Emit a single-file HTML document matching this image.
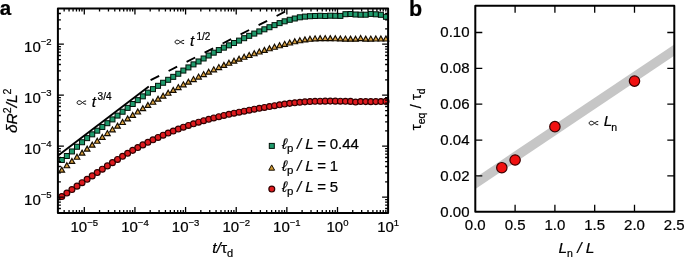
<!DOCTYPE html><html><head><meta charset="utf-8"><style>html,body{margin:0;padding:0;background:#fff;}svg{display:block;will-change:transform;}text{font-family:"Liberation Sans",sans-serif;stroke:#000;stroke-width:0.22px;}</style></head><body>
<svg width="685" height="258" viewBox="0 0 685 258">
<rect width="685" height="258" fill="#fff"/>
<g>
<defs><clipPath id="clipA"><rect x="57.9" y="8.4" width="330.20000000000005" height="204.5"/></clipPath></defs>
<circle cx="61.80" cy="196.56" r="2.95" fill="#de1a1e" stroke="#300000" stroke-width="1.15"/>
<circle cx="66.86" cy="193.06" r="2.95" fill="#de1a1e" stroke="#300000" stroke-width="1.15"/>
<circle cx="71.93" cy="189.58" r="2.95" fill="#de1a1e" stroke="#300000" stroke-width="1.15"/>
<circle cx="77.00" cy="186.13" r="2.95" fill="#de1a1e" stroke="#300000" stroke-width="1.15"/>
<circle cx="82.06" cy="182.69" r="2.95" fill="#de1a1e" stroke="#300000" stroke-width="1.15"/>
<circle cx="87.12" cy="179.28" r="2.95" fill="#de1a1e" stroke="#300000" stroke-width="1.15"/>
<circle cx="92.19" cy="175.89" r="2.95" fill="#de1a1e" stroke="#300000" stroke-width="1.15"/>
<circle cx="97.25" cy="172.53" r="2.95" fill="#de1a1e" stroke="#300000" stroke-width="1.15"/>
<circle cx="102.32" cy="169.18" r="2.95" fill="#de1a1e" stroke="#300000" stroke-width="1.15"/>
<circle cx="107.38" cy="165.88" r="2.95" fill="#de1a1e" stroke="#300000" stroke-width="1.15"/>
<circle cx="112.45" cy="162.63" r="2.95" fill="#de1a1e" stroke="#300000" stroke-width="1.15"/>
<circle cx="117.52" cy="159.43" r="2.95" fill="#de1a1e" stroke="#300000" stroke-width="1.15"/>
<circle cx="122.58" cy="156.32" r="2.95" fill="#de1a1e" stroke="#300000" stroke-width="1.15"/>
<circle cx="127.64" cy="153.29" r="2.95" fill="#de1a1e" stroke="#300000" stroke-width="1.15"/>
<circle cx="132.71" cy="150.37" r="2.95" fill="#de1a1e" stroke="#300000" stroke-width="1.15"/>
<circle cx="137.78" cy="147.57" r="2.95" fill="#de1a1e" stroke="#300000" stroke-width="1.15"/>
<circle cx="142.84" cy="144.88" r="2.95" fill="#de1a1e" stroke="#300000" stroke-width="1.15"/>
<circle cx="147.91" cy="142.30" r="2.95" fill="#de1a1e" stroke="#300000" stroke-width="1.15"/>
<circle cx="152.97" cy="139.83" r="2.95" fill="#de1a1e" stroke="#300000" stroke-width="1.15"/>
<circle cx="158.04" cy="137.47" r="2.95" fill="#de1a1e" stroke="#300000" stroke-width="1.15"/>
<circle cx="163.10" cy="135.21" r="2.95" fill="#de1a1e" stroke="#300000" stroke-width="1.15"/>
<circle cx="168.17" cy="133.06" r="2.95" fill="#de1a1e" stroke="#300000" stroke-width="1.15"/>
<circle cx="173.23" cy="131.01" r="2.95" fill="#de1a1e" stroke="#300000" stroke-width="1.15"/>
<circle cx="178.30" cy="129.06" r="2.95" fill="#de1a1e" stroke="#300000" stroke-width="1.15"/>
<circle cx="183.36" cy="127.20" r="2.95" fill="#de1a1e" stroke="#300000" stroke-width="1.15"/>
<circle cx="188.43" cy="125.44" r="2.95" fill="#de1a1e" stroke="#300000" stroke-width="1.15"/>
<circle cx="193.49" cy="123.77" r="2.95" fill="#de1a1e" stroke="#300000" stroke-width="1.15"/>
<circle cx="198.56" cy="122.19" r="2.95" fill="#de1a1e" stroke="#300000" stroke-width="1.15"/>
<circle cx="203.62" cy="120.69" r="2.95" fill="#de1a1e" stroke="#300000" stroke-width="1.15"/>
<circle cx="208.69" cy="119.27" r="2.95" fill="#de1a1e" stroke="#300000" stroke-width="1.15"/>
<circle cx="213.75" cy="117.93" r="2.95" fill="#de1a1e" stroke="#300000" stroke-width="1.15"/>
<circle cx="218.81" cy="116.66" r="2.95" fill="#de1a1e" stroke="#300000" stroke-width="1.15"/>
<circle cx="223.88" cy="115.46" r="2.95" fill="#de1a1e" stroke="#300000" stroke-width="1.15"/>
<circle cx="228.94" cy="114.31" r="2.95" fill="#de1a1e" stroke="#300000" stroke-width="1.15"/>
<circle cx="234.01" cy="113.21" r="2.95" fill="#de1a1e" stroke="#300000" stroke-width="1.15"/>
<circle cx="239.07" cy="112.16" r="2.95" fill="#de1a1e" stroke="#300000" stroke-width="1.15"/>
<circle cx="244.14" cy="111.15" r="2.95" fill="#de1a1e" stroke="#300000" stroke-width="1.15"/>
<circle cx="249.20" cy="110.17" r="2.95" fill="#de1a1e" stroke="#300000" stroke-width="1.15"/>
<circle cx="254.27" cy="109.23" r="2.95" fill="#de1a1e" stroke="#300000" stroke-width="1.15"/>
<circle cx="259.34" cy="108.30" r="2.95" fill="#de1a1e" stroke="#300000" stroke-width="1.15"/>
<circle cx="264.40" cy="107.40" r="2.95" fill="#de1a1e" stroke="#300000" stroke-width="1.15"/>
<circle cx="269.47" cy="106.51" r="2.95" fill="#de1a1e" stroke="#300000" stroke-width="1.15"/>
<circle cx="274.53" cy="105.65" r="2.95" fill="#de1a1e" stroke="#300000" stroke-width="1.15"/>
<circle cx="279.60" cy="104.82" r="2.95" fill="#de1a1e" stroke="#300000" stroke-width="1.15"/>
<circle cx="284.66" cy="104.06" r="2.95" fill="#de1a1e" stroke="#300000" stroke-width="1.15"/>
<circle cx="289.73" cy="103.37" r="2.95" fill="#de1a1e" stroke="#300000" stroke-width="1.15"/>
<circle cx="294.79" cy="102.76" r="2.95" fill="#de1a1e" stroke="#300000" stroke-width="1.15"/>
<circle cx="299.86" cy="102.25" r="2.95" fill="#de1a1e" stroke="#300000" stroke-width="1.15"/>
<circle cx="304.92" cy="101.85" r="2.95" fill="#de1a1e" stroke="#300000" stroke-width="1.15"/>
<circle cx="309.99" cy="101.54" r="2.95" fill="#de1a1e" stroke="#300000" stroke-width="1.15"/>
<circle cx="315.05" cy="101.33" r="2.95" fill="#de1a1e" stroke="#300000" stroke-width="1.15"/>
<circle cx="320.12" cy="101.19" r="2.95" fill="#de1a1e" stroke="#300000" stroke-width="1.15"/>
<circle cx="325.18" cy="101.13" r="2.95" fill="#de1a1e" stroke="#300000" stroke-width="1.15"/>
<circle cx="330.25" cy="101.11" r="2.95" fill="#de1a1e" stroke="#300000" stroke-width="1.15"/>
<circle cx="335.31" cy="101.14" r="2.95" fill="#de1a1e" stroke="#300000" stroke-width="1.15"/>
<circle cx="340.38" cy="101.20" r="2.95" fill="#de1a1e" stroke="#300000" stroke-width="1.15"/>
<circle cx="345.44" cy="101.29" r="2.95" fill="#de1a1e" stroke="#300000" stroke-width="1.15"/>
<circle cx="350.51" cy="101.38" r="2.95" fill="#de1a1e" stroke="#300000" stroke-width="1.15"/>
<circle cx="355.57" cy="102.07" r="2.95" fill="#de1a1e" stroke="#300000" stroke-width="1.15"/>
<circle cx="360.64" cy="101.55" r="2.95" fill="#de1a1e" stroke="#300000" stroke-width="1.15"/>
<circle cx="365.70" cy="101.61" r="2.95" fill="#de1a1e" stroke="#300000" stroke-width="1.15"/>
<circle cx="370.77" cy="101.64" r="2.95" fill="#de1a1e" stroke="#300000" stroke-width="1.15"/>
<circle cx="375.83" cy="101.62" r="2.95" fill="#de1a1e" stroke="#300000" stroke-width="1.15"/>
<circle cx="380.90" cy="101.54" r="2.95" fill="#de1a1e" stroke="#300000" stroke-width="1.15"/>
<circle cx="385.96" cy="101.39" r="2.95" fill="#de1a1e" stroke="#300000" stroke-width="1.15"/>
<path d="M61.80,167.16 L64.60,172.16 L59.00,172.16 Z" fill="#d8a040" stroke="#140c00" stroke-width="1.15" stroke-linejoin="miter"/>
<path d="M66.86,162.72 L69.66,167.72 L64.06,167.72 Z" fill="#d8a040" stroke="#140c00" stroke-width="1.15" stroke-linejoin="miter"/>
<path d="M71.93,158.41 L74.73,163.41 L69.13,163.41 Z" fill="#d8a040" stroke="#140c00" stroke-width="1.15" stroke-linejoin="miter"/>
<path d="M77.00,154.21 L79.80,159.21 L74.20,159.21 Z" fill="#d8a040" stroke="#140c00" stroke-width="1.15" stroke-linejoin="miter"/>
<path d="M82.06,150.11 L84.86,155.11 L79.26,155.11 Z" fill="#d8a040" stroke="#140c00" stroke-width="1.15" stroke-linejoin="miter"/>
<path d="M87.12,146.10 L89.92,151.10 L84.33,151.10 Z" fill="#d8a040" stroke="#140c00" stroke-width="1.15" stroke-linejoin="miter"/>
<path d="M92.19,142.15 L94.99,147.15 L89.39,147.15 Z" fill="#d8a040" stroke="#140c00" stroke-width="1.15" stroke-linejoin="miter"/>
<path d="M97.25,138.26 L100.05,143.26 L94.45,143.26 Z" fill="#d8a040" stroke="#140c00" stroke-width="1.15" stroke-linejoin="miter"/>
<path d="M102.32,134.41 L105.12,139.41 L99.52,139.41 Z" fill="#d8a040" stroke="#140c00" stroke-width="1.15" stroke-linejoin="miter"/>
<path d="M107.38,130.59 L110.18,135.59 L104.58,135.59 Z" fill="#d8a040" stroke="#140c00" stroke-width="1.15" stroke-linejoin="miter"/>
<path d="M112.45,126.83 L115.25,131.83 L109.65,131.83 Z" fill="#d8a040" stroke="#140c00" stroke-width="1.15" stroke-linejoin="miter"/>
<path d="M117.52,123.13 L120.31,128.13 L114.72,128.13 Z" fill="#d8a040" stroke="#140c00" stroke-width="1.15" stroke-linejoin="miter"/>
<path d="M122.58,119.48 L125.38,124.48 L119.78,124.48 Z" fill="#d8a040" stroke="#140c00" stroke-width="1.15" stroke-linejoin="miter"/>
<path d="M127.64,115.91 L130.44,120.91 L124.84,120.91 Z" fill="#d8a040" stroke="#140c00" stroke-width="1.15" stroke-linejoin="miter"/>
<path d="M132.71,112.42 L135.51,117.42 L129.91,117.42 Z" fill="#d8a040" stroke="#140c00" stroke-width="1.15" stroke-linejoin="miter"/>
<path d="M137.78,109.01 L140.58,114.01 L134.97,114.01 Z" fill="#d8a040" stroke="#140c00" stroke-width="1.15" stroke-linejoin="miter"/>
<path d="M142.84,105.68 L145.64,110.68 L140.04,110.68 Z" fill="#d8a040" stroke="#140c00" stroke-width="1.15" stroke-linejoin="miter"/>
<path d="M147.91,102.43 L150.71,107.43 L145.10,107.43 Z" fill="#d8a040" stroke="#140c00" stroke-width="1.15" stroke-linejoin="miter"/>
<path d="M152.97,99.27 L155.77,104.27 L150.17,104.27 Z" fill="#d8a040" stroke="#140c00" stroke-width="1.15" stroke-linejoin="miter"/>
<path d="M158.04,96.18 L160.84,101.18 L155.24,101.18 Z" fill="#d8a040" stroke="#140c00" stroke-width="1.15" stroke-linejoin="miter"/>
<path d="M163.10,93.16 L165.90,98.16 L160.30,98.16 Z" fill="#d8a040" stroke="#140c00" stroke-width="1.15" stroke-linejoin="miter"/>
<path d="M168.17,90.23 L170.97,95.23 L165.37,95.23 Z" fill="#d8a040" stroke="#140c00" stroke-width="1.15" stroke-linejoin="miter"/>
<path d="M173.23,87.36 L176.03,92.36 L170.43,92.36 Z" fill="#d8a040" stroke="#140c00" stroke-width="1.15" stroke-linejoin="miter"/>
<path d="M178.30,84.56 L181.10,89.56 L175.50,89.56 Z" fill="#d8a040" stroke="#140c00" stroke-width="1.15" stroke-linejoin="miter"/>
<path d="M183.36,81.84 L186.16,86.84 L180.56,86.84 Z" fill="#d8a040" stroke="#140c00" stroke-width="1.15" stroke-linejoin="miter"/>
<path d="M188.43,79.18 L191.23,84.18 L185.62,84.18 Z" fill="#d8a040" stroke="#140c00" stroke-width="1.15" stroke-linejoin="miter"/>
<path d="M193.49,76.59 L196.29,81.59 L190.69,81.59 Z" fill="#d8a040" stroke="#140c00" stroke-width="1.15" stroke-linejoin="miter"/>
<path d="M198.56,74.06 L201.36,79.06 L195.75,79.06 Z" fill="#d8a040" stroke="#140c00" stroke-width="1.15" stroke-linejoin="miter"/>
<path d="M203.62,71.59 L206.42,76.59 L200.82,76.59 Z" fill="#d8a040" stroke="#140c00" stroke-width="1.15" stroke-linejoin="miter"/>
<path d="M208.69,69.18 L211.49,74.18 L205.88,74.18 Z" fill="#d8a040" stroke="#140c00" stroke-width="1.15" stroke-linejoin="miter"/>
<path d="M213.75,66.84 L216.55,71.84 L210.95,71.84 Z" fill="#d8a040" stroke="#140c00" stroke-width="1.15" stroke-linejoin="miter"/>
<path d="M218.81,64.57 L221.62,69.57 L216.01,69.57 Z" fill="#d8a040" stroke="#140c00" stroke-width="1.15" stroke-linejoin="miter"/>
<path d="M223.88,62.36 L226.68,67.36 L221.08,67.36 Z" fill="#d8a040" stroke="#140c00" stroke-width="1.15" stroke-linejoin="miter"/>
<path d="M228.94,60.22 L231.75,65.22 L226.14,65.22 Z" fill="#d8a040" stroke="#140c00" stroke-width="1.15" stroke-linejoin="miter"/>
<path d="M234.01,58.16 L236.81,63.16 L231.21,63.16 Z" fill="#d8a040" stroke="#140c00" stroke-width="1.15" stroke-linejoin="miter"/>
<path d="M239.07,56.18 L241.88,61.18 L236.27,61.18 Z" fill="#d8a040" stroke="#140c00" stroke-width="1.15" stroke-linejoin="miter"/>
<path d="M244.14,54.28 L246.94,59.28 L241.34,59.28 Z" fill="#d8a040" stroke="#140c00" stroke-width="1.15" stroke-linejoin="miter"/>
<path d="M249.20,52.45 L252.00,57.45 L246.40,57.45 Z" fill="#d8a040" stroke="#140c00" stroke-width="1.15" stroke-linejoin="miter"/>
<path d="M254.27,50.70 L257.07,55.70 L251.47,55.70 Z" fill="#d8a040" stroke="#140c00" stroke-width="1.15" stroke-linejoin="miter"/>
<path d="M259.34,49.00 L262.14,54.00 L256.54,54.00 Z" fill="#d8a040" stroke="#140c00" stroke-width="1.15" stroke-linejoin="miter"/>
<path d="M264.40,47.36 L267.20,52.36 L261.60,52.36 Z" fill="#d8a040" stroke="#140c00" stroke-width="1.15" stroke-linejoin="miter"/>
<path d="M269.47,45.78 L272.27,50.78 L266.67,50.78 Z" fill="#d8a040" stroke="#140c00" stroke-width="1.15" stroke-linejoin="miter"/>
<path d="M274.53,44.23 L277.33,49.23 L271.73,49.23 Z" fill="#d8a040" stroke="#140c00" stroke-width="1.15" stroke-linejoin="miter"/>
<path d="M279.60,42.74 L282.40,47.74 L276.80,47.74 Z" fill="#d8a040" stroke="#140c00" stroke-width="1.15" stroke-linejoin="miter"/>
<path d="M284.66,41.31 L287.46,46.31 L281.86,46.31 Z" fill="#d8a040" stroke="#140c00" stroke-width="1.15" stroke-linejoin="miter"/>
<path d="M289.73,39.98 L292.53,44.98 L286.93,44.98 Z" fill="#d8a040" stroke="#140c00" stroke-width="1.15" stroke-linejoin="miter"/>
<path d="M294.79,38.78 L297.59,43.78 L291.99,43.78 Z" fill="#d8a040" stroke="#140c00" stroke-width="1.15" stroke-linejoin="miter"/>
<path d="M299.86,37.74 L302.66,42.74 L297.06,42.74 Z" fill="#d8a040" stroke="#140c00" stroke-width="1.15" stroke-linejoin="miter"/>
<path d="M304.92,36.88 L307.72,41.88 L302.12,41.88 Z" fill="#d8a040" stroke="#140c00" stroke-width="1.15" stroke-linejoin="miter"/>
<path d="M309.99,36.24 L312.79,41.24 L307.19,41.24 Z" fill="#d8a040" stroke="#140c00" stroke-width="1.15" stroke-linejoin="miter"/>
<path d="M315.05,35.83 L317.85,40.83 L312.25,40.83 Z" fill="#d8a040" stroke="#140c00" stroke-width="1.15" stroke-linejoin="miter"/>
<path d="M320.12,35.63 L322.92,40.63 L317.31,40.63 Z" fill="#d8a040" stroke="#140c00" stroke-width="1.15" stroke-linejoin="miter"/>
<path d="M325.18,35.58 L327.98,40.58 L322.38,40.58 Z" fill="#d8a040" stroke="#140c00" stroke-width="1.15" stroke-linejoin="miter"/>
<path d="M330.25,35.64 L333.05,40.64 L327.44,40.64 Z" fill="#d8a040" stroke="#140c00" stroke-width="1.15" stroke-linejoin="miter"/>
<path d="M335.31,35.77 L338.11,40.77 L332.51,40.77 Z" fill="#d8a040" stroke="#140c00" stroke-width="1.15" stroke-linejoin="miter"/>
<path d="M340.38,35.93 L343.18,40.93 L337.58,40.93 Z" fill="#d8a040" stroke="#140c00" stroke-width="1.15" stroke-linejoin="miter"/>
<path d="M345.44,36.06 L348.24,41.06 L342.64,41.06 Z" fill="#d8a040" stroke="#140c00" stroke-width="1.15" stroke-linejoin="miter"/>
<path d="M350.51,36.13 L353.31,41.13 L347.71,41.13 Z" fill="#d8a040" stroke="#140c00" stroke-width="1.15" stroke-linejoin="miter"/>
<path d="M355.57,36.16 L358.37,41.16 L352.77,41.16 Z" fill="#d8a040" stroke="#140c00" stroke-width="1.15" stroke-linejoin="miter"/>
<path d="M360.64,35.55 L363.44,40.55 L357.84,40.55 Z" fill="#d8a040" stroke="#140c00" stroke-width="1.15" stroke-linejoin="miter"/>
<path d="M365.70,36.12 L368.50,41.12 L362.90,41.12 Z" fill="#d8a040" stroke="#140c00" stroke-width="1.15" stroke-linejoin="miter"/>
<path d="M370.77,36.08 L373.57,41.08 L367.97,41.08 Z" fill="#d8a040" stroke="#140c00" stroke-width="1.15" stroke-linejoin="miter"/>
<path d="M375.83,36.04 L378.63,41.04 L373.03,41.04 Z" fill="#d8a040" stroke="#140c00" stroke-width="1.15" stroke-linejoin="miter"/>
<path d="M380.90,36.01 L383.70,41.01 L378.10,41.01 Z" fill="#d8a040" stroke="#140c00" stroke-width="1.15" stroke-linejoin="miter"/>
<path d="M385.96,36.01 L388.76,41.01 L383.16,41.01 Z" fill="#d8a040" stroke="#140c00" stroke-width="1.15" stroke-linejoin="miter"/>
<rect x="59.30" y="157.49" width="5.0" height="5.0" fill="#1f9a6c" stroke="#001208" stroke-width="1"/>
<rect x="64.36" y="153.48" width="5.0" height="5.0" fill="#1f9a6c" stroke="#001208" stroke-width="1"/>
<rect x="69.43" y="148.96" width="5.0" height="5.0" fill="#1f9a6c" stroke="#001208" stroke-width="1"/>
<rect x="74.50" y="144.26" width="5.0" height="5.0" fill="#1f9a6c" stroke="#001208" stroke-width="1"/>
<rect x="79.56" y="139.74" width="5.0" height="5.0" fill="#1f9a6c" stroke="#001208" stroke-width="1"/>
<rect x="84.62" y="135.64" width="5.0" height="5.0" fill="#1f9a6c" stroke="#001208" stroke-width="1"/>
<rect x="89.69" y="131.84" width="5.0" height="5.0" fill="#1f9a6c" stroke="#001208" stroke-width="1"/>
<rect x="94.75" y="128.16" width="5.0" height="5.0" fill="#1f9a6c" stroke="#001208" stroke-width="1"/>
<rect x="99.82" y="124.46" width="5.0" height="5.0" fill="#1f9a6c" stroke="#001208" stroke-width="1"/>
<rect x="104.88" y="120.70" width="5.0" height="5.0" fill="#1f9a6c" stroke="#001208" stroke-width="1"/>
<rect x="109.95" y="116.91" width="5.0" height="5.0" fill="#1f9a6c" stroke="#001208" stroke-width="1"/>
<rect x="115.02" y="113.08" width="5.0" height="5.0" fill="#1f9a6c" stroke="#001208" stroke-width="1"/>
<rect x="120.08" y="109.23" width="5.0" height="5.0" fill="#1f9a6c" stroke="#001208" stroke-width="1"/>
<rect x="125.14" y="105.37" width="5.0" height="5.0" fill="#1f9a6c" stroke="#001208" stroke-width="1"/>
<rect x="130.21" y="101.50" width="5.0" height="5.0" fill="#1f9a6c" stroke="#001208" stroke-width="1"/>
<rect x="135.28" y="97.65" width="5.0" height="5.0" fill="#1f9a6c" stroke="#001208" stroke-width="1"/>
<rect x="140.34" y="93.85" width="5.0" height="5.0" fill="#1f9a6c" stroke="#001208" stroke-width="1"/>
<rect x="145.41" y="90.16" width="5.0" height="5.0" fill="#1f9a6c" stroke="#001208" stroke-width="1"/>
<rect x="150.47" y="86.63" width="5.0" height="5.0" fill="#1f9a6c" stroke="#001208" stroke-width="1"/>
<rect x="155.54" y="83.32" width="5.0" height="5.0" fill="#1f9a6c" stroke="#001208" stroke-width="1"/>
<rect x="160.60" y="80.25" width="5.0" height="5.0" fill="#1f9a6c" stroke="#001208" stroke-width="1"/>
<rect x="165.67" y="77.30" width="5.0" height="5.0" fill="#1f9a6c" stroke="#001208" stroke-width="1"/>
<rect x="170.73" y="74.34" width="5.0" height="5.0" fill="#1f9a6c" stroke="#001208" stroke-width="1"/>
<rect x="175.80" y="71.24" width="5.0" height="5.0" fill="#1f9a6c" stroke="#001208" stroke-width="1"/>
<rect x="180.86" y="68.07" width="5.0" height="5.0" fill="#1f9a6c" stroke="#001208" stroke-width="1"/>
<rect x="185.93" y="64.92" width="5.0" height="5.0" fill="#1f9a6c" stroke="#001208" stroke-width="1"/>
<rect x="190.99" y="61.88" width="5.0" height="5.0" fill="#1f9a6c" stroke="#001208" stroke-width="1"/>
<rect x="196.06" y="58.97" width="5.0" height="5.0" fill="#1f9a6c" stroke="#001208" stroke-width="1"/>
<rect x="201.12" y="55.99" width="5.0" height="5.0" fill="#1f9a6c" stroke="#001208" stroke-width="1"/>
<rect x="206.19" y="53.01" width="5.0" height="5.0" fill="#1f9a6c" stroke="#001208" stroke-width="1"/>
<rect x="211.25" y="50.17" width="5.0" height="5.0" fill="#1f9a6c" stroke="#001208" stroke-width="1"/>
<rect x="216.31" y="47.57" width="5.0" height="5.0" fill="#1f9a6c" stroke="#001208" stroke-width="1"/>
<rect x="221.38" y="45.16" width="5.0" height="5.0" fill="#1f9a6c" stroke="#001208" stroke-width="1"/>
<rect x="226.44" y="42.84" width="5.0" height="5.0" fill="#1f9a6c" stroke="#001208" stroke-width="1"/>
<rect x="231.51" y="40.51" width="5.0" height="5.0" fill="#1f9a6c" stroke="#001208" stroke-width="1"/>
<rect x="236.57" y="38.11" width="5.0" height="5.0" fill="#1f9a6c" stroke="#001208" stroke-width="1"/>
<rect x="241.64" y="35.70" width="5.0" height="5.0" fill="#1f9a6c" stroke="#001208" stroke-width="1"/>
<rect x="246.70" y="33.33" width="5.0" height="5.0" fill="#1f9a6c" stroke="#001208" stroke-width="1"/>
<rect x="251.77" y="31.08" width="5.0" height="5.0" fill="#1f9a6c" stroke="#001208" stroke-width="1"/>
<rect x="256.84" y="28.92" width="5.0" height="5.0" fill="#1f9a6c" stroke="#001208" stroke-width="1"/>
<rect x="261.90" y="26.81" width="5.0" height="5.0" fill="#1f9a6c" stroke="#001208" stroke-width="1"/>
<rect x="266.97" y="24.72" width="5.0" height="5.0" fill="#1f9a6c" stroke="#001208" stroke-width="1"/>
<rect x="272.03" y="22.63" width="5.0" height="5.0" fill="#1f9a6c" stroke="#001208" stroke-width="1"/>
<rect x="277.10" y="20.63" width="5.0" height="5.0" fill="#1f9a6c" stroke="#001208" stroke-width="1"/>
<rect x="282.16" y="18.82" width="5.0" height="5.0" fill="#1f9a6c" stroke="#001208" stroke-width="1"/>
<rect x="287.23" y="17.28" width="5.0" height="5.0" fill="#1f9a6c" stroke="#001208" stroke-width="1"/>
<rect x="292.29" y="16.01" width="5.0" height="5.0" fill="#1f9a6c" stroke="#001208" stroke-width="1"/>
<rect x="297.36" y="14.80" width="5.0" height="5.0" fill="#1f9a6c" stroke="#001208" stroke-width="1"/>
<rect x="302.42" y="14.10" width="5.0" height="5.0" fill="#1f9a6c" stroke="#001208" stroke-width="1"/>
<rect x="307.49" y="13.70" width="5.0" height="5.0" fill="#1f9a6c" stroke="#001208" stroke-width="1"/>
<rect x="312.55" y="13.50" width="5.0" height="5.0" fill="#1f9a6c" stroke="#001208" stroke-width="1"/>
<rect x="317.62" y="13.30" width="5.0" height="5.0" fill="#1f9a6c" stroke="#001208" stroke-width="1"/>
<rect x="322.68" y="13.50" width="5.0" height="5.0" fill="#1f9a6c" stroke="#001208" stroke-width="1"/>
<rect x="327.75" y="13.20" width="5.0" height="5.0" fill="#1f9a6c" stroke="#001208" stroke-width="1"/>
<rect x="332.81" y="13.30" width="5.0" height="5.0" fill="#1f9a6c" stroke="#001208" stroke-width="1"/>
<rect x="337.88" y="13.40" width="5.0" height="5.0" fill="#1f9a6c" stroke="#001208" stroke-width="1"/>
<rect x="342.94" y="11.70" width="5.0" height="5.0" fill="#1f9a6c" stroke="#001208" stroke-width="1"/>
<rect x="348.01" y="11.50" width="5.0" height="5.0" fill="#1f9a6c" stroke="#001208" stroke-width="1"/>
<rect x="353.07" y="12.00" width="5.0" height="5.0" fill="#1f9a6c" stroke="#001208" stroke-width="1"/>
<rect x="358.14" y="12.20" width="5.0" height="5.0" fill="#1f9a6c" stroke="#001208" stroke-width="1"/>
<rect x="363.20" y="12.20" width="5.0" height="5.0" fill="#1f9a6c" stroke="#001208" stroke-width="1"/>
<rect x="368.27" y="11.40" width="5.0" height="5.0" fill="#1f9a6c" stroke="#001208" stroke-width="1"/>
<rect x="373.33" y="11.80" width="5.0" height="5.0" fill="#1f9a6c" stroke="#001208" stroke-width="1"/>
<rect x="378.40" y="12.30" width="5.0" height="5.0" fill="#1f9a6c" stroke="#001208" stroke-width="1"/>
<rect x="383.46" y="14.30" width="5.0" height="5.0" fill="#1f9a6c" stroke="#001208" stroke-width="1"/>
</g>
<line x1="57.5" y1="155.9" x2="148.8" y2="86.4" stroke="#000" stroke-width="1.9"/>
<line x1="150.6" y1="80.2" x2="285" y2="11.7" stroke="#000" stroke-width="1.9" stroke-dasharray="9.6,10.6"/>
<rect x="57.9" y="8.4" width="330.20" height="204.50" fill="none" stroke="#000" stroke-width="2" stroke-linejoin="round"/>
<path d="M64.15,212.9v-3M64.15,8.4v3M69.06,212.9v-3M69.06,8.4v3M73.07,212.9v-3M73.07,8.4v3M76.46,212.9v-3M76.46,8.4v3M79.39,212.9v-3M79.39,8.4v3M81.98,212.9v-3M81.98,8.4v3M84.30,212.9v-6M84.30,8.4v6M99.54,212.9v-3M99.54,8.4v3M108.46,212.9v-3M108.46,8.4v3M114.79,212.9v-3M114.79,8.4v3M119.70,212.9v-3M119.70,8.4v3M123.71,212.9v-3M123.71,8.4v3M127.10,212.9v-3M127.10,8.4v3M130.03,212.9v-3M130.03,8.4v3M132.62,212.9v-3M132.62,8.4v3M134.94,212.9v-6M134.94,8.4v6M150.18,212.9v-3M150.18,8.4v3M159.10,212.9v-3M159.10,8.4v3M165.43,212.9v-3M165.43,8.4v3M170.34,212.9v-3M170.34,8.4v3M174.35,212.9v-3M174.35,8.4v3M177.74,212.9v-3M177.74,8.4v3M180.67,212.9v-3M180.67,8.4v3M183.26,212.9v-3M183.26,8.4v3M185.58,212.9v-6M185.58,8.4v6M200.82,212.9v-3M200.82,8.4v3M209.74,212.9v-3M209.74,8.4v3M216.07,212.9v-3M216.07,8.4v3M220.98,212.9v-3M220.98,8.4v3M224.99,212.9v-3M224.99,8.4v3M228.38,212.9v-3M228.38,8.4v3M231.31,212.9v-3M231.31,8.4v3M233.90,212.9v-3M233.90,8.4v3M236.22,212.9v-6M236.22,8.4v6M251.46,212.9v-3M251.46,8.4v3M260.38,212.9v-3M260.38,8.4v3M266.71,212.9v-3M266.71,8.4v3M271.62,212.9v-3M271.62,8.4v3M275.63,212.9v-3M275.63,8.4v3M279.02,212.9v-3M279.02,8.4v3M281.95,212.9v-3M281.95,8.4v3M284.54,212.9v-3M284.54,8.4v3M286.86,212.9v-6M286.86,8.4v6M302.10,212.9v-3M302.10,8.4v3M311.02,212.9v-3M311.02,8.4v3M317.35,212.9v-3M317.35,8.4v3M322.26,212.9v-3M322.26,8.4v3M326.27,212.9v-3M326.27,8.4v3M329.66,212.9v-3M329.66,8.4v3M332.59,212.9v-3M332.59,8.4v3M335.18,212.9v-3M335.18,8.4v3M337.50,212.9v-6M337.50,8.4v6M352.74,212.9v-3M352.74,8.4v3M361.66,212.9v-3M361.66,8.4v3M367.99,212.9v-3M367.99,8.4v3M372.90,212.9v-3M372.90,8.4v3M376.91,212.9v-3M376.91,8.4v3M380.30,212.9v-3M380.30,8.4v3M383.23,212.9v-3M383.23,8.4v3M385.82,212.9v-3M385.82,8.4v3M57.9,208.51h3M388.1,208.51h-3M57.9,205.10h3M388.1,205.10h-3M57.9,202.14h3M388.1,202.14h-3M57.9,199.53h3M388.1,199.53h-3M57.9,197.20h6M388.1,197.20h-6M57.9,181.85h3M388.1,181.85h-3M57.9,172.87h3M388.1,172.87h-3M57.9,166.49h3M388.1,166.49h-3M57.9,161.55h3M388.1,161.55h-3M57.9,157.51h3M388.1,157.51h-3M57.9,154.10h3M388.1,154.10h-3M57.9,151.14h3M388.1,151.14h-3M57.9,148.53h3M388.1,148.53h-3M57.9,146.20h6M388.1,146.20h-6M57.9,130.85h3M388.1,130.85h-3M57.9,121.87h3M388.1,121.87h-3M57.9,115.49h3M388.1,115.49h-3M57.9,110.55h3M388.1,110.55h-3M57.9,106.51h3M388.1,106.51h-3M57.9,103.10h3M388.1,103.10h-3M57.9,100.14h3M388.1,100.14h-3M57.9,97.53h3M388.1,97.53h-3M57.9,95.20h6M388.1,95.20h-6M57.9,79.85h3M388.1,79.85h-3M57.9,70.87h3M388.1,70.87h-3M57.9,64.49h3M388.1,64.49h-3M57.9,59.55h3M388.1,59.55h-3M57.9,55.51h3M388.1,55.51h-3M57.9,52.10h3M388.1,52.10h-3M57.9,49.14h3M388.1,49.14h-3M57.9,46.53h3M388.1,46.53h-3M57.9,44.20h6M388.1,44.20h-6M57.9,28.85h3M388.1,28.85h-3M57.9,19.87h3M388.1,19.87h-3M57.9,13.49h3M388.1,13.49h-3" stroke="#000" stroke-width="1.3" fill="none"/>
<text x="84.30" y="232.0" font-size="15" text-anchor="middle">10<tspan font-size="9.5" dy="-6.3">−5</tspan></text>
<text x="134.94" y="232.0" font-size="15" text-anchor="middle">10<tspan font-size="9.5" dy="-6.3">−4</tspan></text>
<text x="185.58" y="232.0" font-size="15" text-anchor="middle">10<tspan font-size="9.5" dy="-6.3">−3</tspan></text>
<text x="236.22" y="232.0" font-size="15" text-anchor="middle">10<tspan font-size="9.5" dy="-6.3">−2</tspan></text>
<text x="286.86" y="232.0" font-size="15" text-anchor="middle">10<tspan font-size="9.5" dy="-6.3">−1</tspan></text>
<text x="337.50" y="232.0" font-size="15" text-anchor="middle">10<tspan font-size="9.5" dy="-6.3">0</tspan></text>
<text x="388.14" y="232.0" font-size="15" text-anchor="middle">10<tspan font-size="9.5" dy="-6.3">1</tspan></text>
<text x="51.6" y="205.20" font-size="15" text-anchor="end">10<tspan font-size="9.5" dy="-7">−5</tspan></text>
<text x="51.6" y="154.20" font-size="15" text-anchor="end">10<tspan font-size="9.5" dy="-7">−4</tspan></text>
<text x="51.6" y="103.20" font-size="15" text-anchor="end">10<tspan font-size="9.5" dy="-7">−3</tspan></text>
<text x="51.6" y="52.20" font-size="15" text-anchor="end">10<tspan font-size="9.5" dy="-7">−2</tspan></text>
<text x="212.3" y="253.3" font-size="15.5"><tspan font-style="italic">t/</tspan>τ<tspan font-size="11" dy="3.5">d</tspan></text>
<text transform="translate(17.2,133) rotate(-90)" font-size="15.5"><tspan font-style="italic">δR</tspan><tspan font-size="10.5" dy="-6.2">2</tspan><tspan dy="6.2" font-style="italic">/L</tspan><tspan font-size="10.5" dy="-6.2">2</tspan></text>
<path d="M86.12,100.97 C84.67,100.97 83.50,101.71 82.43,102.60 C81.27,103.64 80.30,104.45 79.23,104.45 C77.88,104.45 77.10,103.56 77.10,102.60 C77.10,101.64 77.88,100.75 79.23,100.75 C80.30,100.75 81.27,101.56 82.43,102.60 C83.50,103.49 84.67,104.23 86.12,104.23" fill="none" stroke="#000" stroke-width="1.0"/>
<text x="91.8" y="106.6" font-size="15" font-style="italic">t</text><text x="97.6" y="100.2" font-size="10">3/4</text>
<path d="M184.12,40.37 C182.67,40.37 181.50,41.11 180.44,42.00 C179.27,43.04 178.30,43.85 177.23,43.85 C175.88,43.85 175.10,42.96 175.10,42.00 C175.10,41.04 175.88,40.15 177.23,40.15 C178.30,40.15 179.27,40.96 180.44,42.00 C181.50,42.89 182.67,43.63 184.12,43.63" fill="none" stroke="#000" stroke-width="1.0"/>
<text x="190" y="46" font-size="15" font-style="italic">t</text><text x="196.5" y="39.7" font-size="10">1/2</text>
<rect x="269.3" y="143.4" width="5.0" height="5.0" fill="#1f9a6c" stroke="#001208" stroke-width="1"/>
<path d="M271.7,164.9 L274.6,170.2 L268.8,170.2 Z" fill="#d09a32" stroke="#140c00" stroke-width="1"/>
<circle cx="271.8" cy="189" r="2.95" fill="#de1a1e" stroke="#300000" stroke-width="1.15"/>
<text y="149.0" font-size="15"><tspan x="282.1" font-style="italic">ℓ</tspan><tspan x="287.1" font-size="11.5" dy="3">p</tspan><tspan x="296.9" dy="-3" font-style="italic">/</tspan><tspan x="305.2" font-style="italic">L</tspan><tspan x="317.2">=</tspan><tspan x="329.7">0.44</tspan></text>
<text y="170.6" font-size="15"><tspan x="282.1" font-style="italic">ℓ</tspan><tspan x="287.1" font-size="11.5" dy="3">p</tspan><tspan x="296.9" dy="-3" font-style="italic">/</tspan><tspan x="305.2" font-style="italic">L</tspan><tspan x="317.2">=</tspan><tspan x="329.7">1</tspan></text>
<text y="192.1" font-size="15"><tspan x="282.1" font-style="italic">ℓ</tspan><tspan x="287.1" font-size="11.5" dy="3">p</tspan><tspan x="296.9" dy="-3" font-style="italic">/</tspan><tspan x="305.2" font-style="italic">L</tspan><tspan x="317.2">=</tspan><tspan x="329.7">5</tspan></text>
<text x="-0.3" y="14.6" font-size="20.5" font-weight="bold">a</text>
<text x="408.9" y="15.8" font-size="21.5" font-weight="bold">b</text>
<line x1="465.3" y1="190.10" x2="684.3" y2="43.30" stroke="#c6c6c6" stroke-width="9.4" clip-path="url(#clipB)"/>
<defs><clipPath id="clipB"><rect x="475.3" y="5.8" width="198.99999999999994" height="206.0"/></clipPath></defs>
<circle cx="501.81" cy="167.69" r="5.2" fill="#f01010" stroke="#3a0000" stroke-width="1.2"/>
<circle cx="515.10" cy="159.98" r="5.2" fill="#f01010" stroke="#3a0000" stroke-width="1.2"/>
<circle cx="554.90" cy="126.63" r="5.2" fill="#f01010" stroke="#3a0000" stroke-width="1.2"/>
<circle cx="634.50" cy="81.09" r="5.2" fill="#f01010" stroke="#3a0000" stroke-width="1.2"/>
<rect x="475.3" y="5.8" width="199.00" height="206.00" fill="none" stroke="#000" stroke-width="2" stroke-linejoin="round"/>
<path d="M515.10,211.8v-7M515.10,5.8v7M554.90,211.8v-7M554.90,5.8v7M594.70,211.8v-7M594.70,5.8v7M634.50,211.8v-7M634.50,5.8v7M475.3,175.94h7M674.3,175.94h-7M475.3,140.08h7M674.3,140.08h-7M475.3,104.22h7M674.3,104.22h-7M475.3,68.36h7M674.3,68.36h-7M475.3,32.50h7M674.3,32.50h-7" stroke="#000" stroke-width="1.3" fill="none"/>
<text x="475.30" y="229.5" font-size="15" text-anchor="middle">0.0</text>
<text x="515.10" y="229.5" font-size="15" text-anchor="middle">0.5</text>
<text x="554.90" y="229.5" font-size="15" text-anchor="middle">1.0</text>
<text x="594.70" y="229.5" font-size="15" text-anchor="middle">1.5</text>
<text x="634.50" y="229.5" font-size="15" text-anchor="middle">2.0</text>
<text x="674.30" y="229.5" font-size="15" text-anchor="middle">2.5</text>
<text x="469.5" y="216.50" font-size="15" text-anchor="end">0.00</text>
<text x="469.5" y="180.64" font-size="15" text-anchor="end">0.02</text>
<text x="469.5" y="144.78" font-size="15" text-anchor="end">0.04</text>
<text x="469.5" y="108.92" font-size="15" text-anchor="end">0.06</text>
<text x="469.5" y="73.06" font-size="15" text-anchor="end">0.08</text>
<text x="469.5" y="37.20" font-size="15" text-anchor="end">0.10</text>
<text x="558.4" y="252.5" font-size="15.5" font-style="italic">L<tspan font-style="normal" font-size="10.5" dy="4.5">n</tspan><tspan dy="-4.5"> / L</tspan></text>
<text transform="translate(421.3,130.2) rotate(-90)" font-size="15">τ<tspan font-size="10.5" dy="4">eq</tspan><tspan dy="-4"> / τ</tspan><tspan font-size="10.5" dy="4">d</tspan></text>
<path d="M598.22,121.47 C596.77,121.47 595.60,122.21 594.54,123.10 C593.37,124.14 592.40,124.95 591.33,124.95 C589.98,124.95 589.20,124.06 589.20,123.10 C589.20,122.14 589.98,121.25 591.33,121.25 C592.40,121.25 593.37,122.06 594.54,123.10 C595.60,123.99 596.77,124.73 598.22,124.73" fill="none" stroke="#000" stroke-width="1.0"/>
<text x="603.8" y="126.3" font-size="15" font-style="italic">L<tspan font-style="normal" font-size="10.5" dy="5" dx="-0.8">n</tspan></text>
</svg></body></html>
